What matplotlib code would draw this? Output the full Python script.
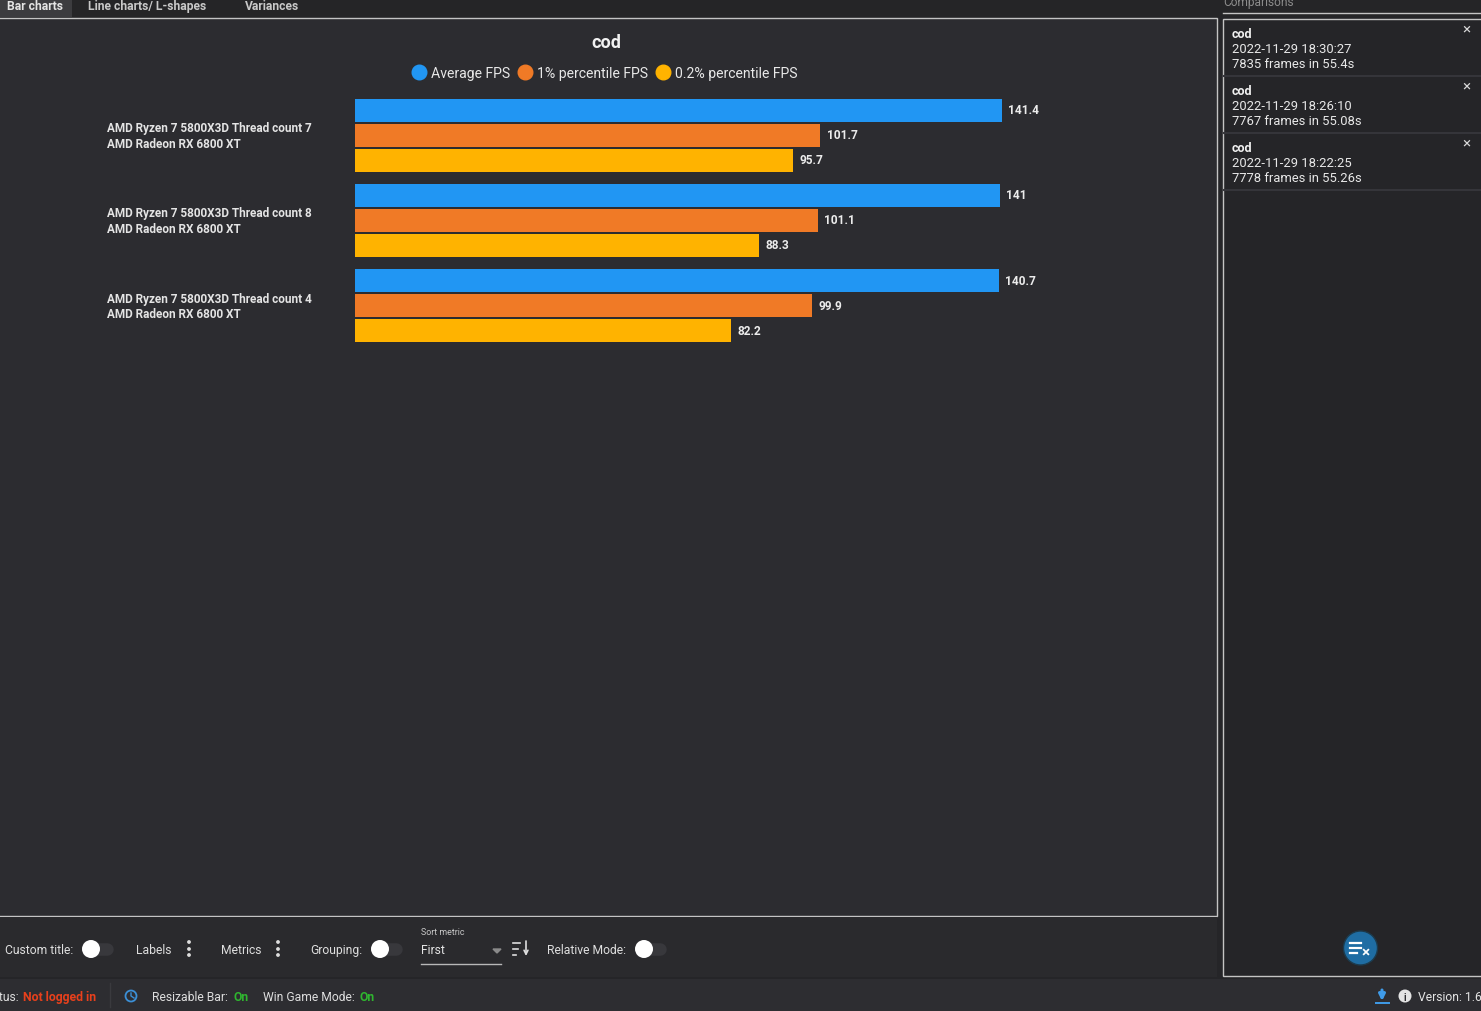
import matplotlib
matplotlib.use("Agg")
from matplotlib import pyplot as plt
from matplotlib.lines import Line2D
from matplotlib.patches import Rectangle, Circle
import numpy as np

plt.rcParams['font.family'] = ['Roboto', 'DejaVu Sans']

title = "cod"
labels = ["AMD Ryzen 7 5800X3D Thread count 7\nAMD Radeon RX 6800 XT",
          "AMD Ryzen 7 5800X3D Thread count 8\nAMD Radeon RX 6800 XT",
          "AMD Ryzen 7 5800X3D Thread count 4\nAMD Radeon RX 6800 XT"]
metrics = ["Average FPS", "1% percentile FPS", "0.2% percentile FPS"]
avg_fps = [141.4, 141, 140.7]
p1_fps = [101.7, 101.1, 99.9]
p02_fps = [95.7, 88.3, 82.2]
colors = ["#2196f3", "#f07a26", "#ffb300"]

tabs = ["Bar charts", "Line charts/ L-shapes", "Variances"]
runs = ["2022-11-29 18:30:27\n7835 frames in 55.4s",
        "2022-11-29 18:26:10\n7767 frames in 55.08s",
        "2022-11-29 18:22:25\n7778 frames in 55.26s"]

W, H = 1481, 1012
fig = plt.figure(figsize=(W/100, H/100), dpi=100, facecolor="#252528")

# the app window around the chart, in pixels
ui = fig.add_axes([0, 0, 1, 1])
ui.set_xlim(0, W)
ui.set_ylim(H, 0)
ui.axis("off")

def box(x, y, w, h, fc, ec="none", lw=0):
    ui.add_patch(Rectangle((x, y), w, h, fc=fc, ec=ec, lw=lw))

def txt(x, y, s, size=8.7, color="#e4e4e4", weight="normal", ha="left", **kw):
    ui.text(x, y + 0.8, s, fontsize=size, color=color, fontweight=weight, ha=ha, va="center", **kw)

box(0, 0, W, 18, "#252527")
box(0, 0, 72, 18, "#3c3c3f")
box(-3, 18.5, 1220, 898, "#2c2c30", "#c4c4c4", 1)
box(1223, 20, 262, 957, "#252528", "#c4c4c4", 1)
ui.plot([1223, W + 2], [14, 14], color="#c4c4c4", lw=1)
box(0, 917.5, 1217, 60, "#2a2a2d")
box(0, 980, W, 32, "#2d2d31")
ui.plot([110, 110], [984, 1008], color="#3a3a3e", lw=1)

txt(7, 5.5, tabs[0], 8.7, weight="bold")
txt(88, 5.5, tabs[1], 8.7, color="#c8c8c8", weight="bold")
txt(245, 5.5, tabs[2], 8.7, color="#c8c8c8", weight="bold")
txt(1223, 2, "Comparisons", 8.6, color="#8d8d8d")

# comparison list
for y0, run in zip([20, 77, 134], runs):
    ui.plot([1224, W + 2], [y0 + 57, y0 + 57], color="#35353a", lw=1.5)
    txt(1232, y0 + 13.5, title, 9, color="#f2f2f2", weight="bold")
    ui.text(1232, y0 + 37, run, fontsize=9.35, color="#e8e8e8", va="center", linespacing=1.13)
    txt(1466, y0 + 9, "×", 11, color="#d8d8d8", ha="center")

ui.add_patch(Circle((1360.5, 949), 17, fc="#1f6da3", ec="#1c3a4c", lw=1))
for yy, x1 in zip([943.5, 948.5, 953.5], [1361, 1361, 1357]):
    ui.plot([1350, x1], [yy, yy], color="white", lw=1.6)
txt(1366, 951.5, "×", 11, color="white", weight="bold", ha="center")

# bottom controls
def toggle(x):
    ui.plot([x + 4, x + 16], [950, 950], color="#38383c", lw=9, solid_capstyle="round", zorder=2)
    ui.add_patch(Circle((x, 950), 9, fc="white", ec="none", zorder=3))

def dots(x):
    for yy in [943, 950, 956]:
        ui.add_patch(Circle((x, yy), 1.9, fc="#dedede", ec="none"))

txt(5, 950, "Custom title:", color="#dedede")
toggle(91)
txt(136, 950, "Labels", color="#dedede")
dots(189)
txt(221, 950, "Metrics", color="#dedede")
dots(278)
txt(310, 950, "Grouping:", color="#dedede")
toggle(380)
txt(421, 931.5, "Sort metric", 6.4, color="#c8c8c8")
txt(421, 950, "First", 8.7, color="#e4e4e4")
ui.fill([493, 501, 497], [950, 950, 954], color="#8a8a8a")
ui.plot([421, 501], [964.5, 964.5], color="#b8b8b8", lw=1)
for yy, x1 in zip([943.5, 949.5, 955.5], [520, 518, 516]):
    ui.plot([513, x1], [yy, yy], color="#dedede", lw=1.2)
ui.annotate("", xy=(526, 957), xytext=(526, 942),
            arrowprops=dict(arrowstyle="->", color="#dedede", lw=1.2, mutation_scale=7,
                            shrinkA=0, shrinkB=0))
txt(547, 950, "Relative Mode:", color="#dedede")
toggle(644)

# status bar
txt(-18, 997, "Status:", color="#dedede")
txt(23, 997, "Not logged in", 8.8, color="#e8401c", weight="bold")
ui.add_patch(Circle((131, 997), 5.5, fc="none", ec="#3b8fd6", lw=1.3))
ui.plot([131, 131, 134], [994, 997, 999], color="#3b8fd6", lw=1)
txt(152, 997, "Resizable Bar:", color="#dedede")
txt(233, 997, "On", color="#2fb52f", weight="bold")
txt(263, 997, "Win Game Mode:", color="#dedede")
txt(359, 997, "On", color="#2fb52f", weight="bold")
ui.plot([1376, 1389], [1003.5, 1003.5], color="#3f9be8", lw=1.4)
ui.annotate("", xy=(1382, 1002), xytext=(1382, 991),
            arrowprops=dict(arrowstyle="-|>", color="#3f9be8", lw=2.2, mutation_scale=9,
                            shrinkA=0, shrinkB=0))
ui.add_patch(Circle((1405, 997), 6.5, fc="#e4e4e4", ec="none"))
txt(1405, 997, "i", 7, color="#2d2d31", weight="bold", ha="center")
txt(1418, 997, "Version: 1.6.1", color="#e4e4e4")

# chart title and legend
txt(606.5, 42, title, 13, color="#f2f2f2", weight="bold", ha="center")
handles = [Line2D([], [], ls="none", marker="o", ms=10.5, color=c) for c in colors]
ui.legend(handles, metrics, loc="center", bbox_to_anchor=(603, 74),
          bbox_transform=ui.transData, ncol=3, frameon=False, fontsize=10.1,
          labelcolor="#e8e8e8", handletextpad=0.12, columnspacing=0.3, borderpad=0,
          handlelength=1.5)

# bar chart: y units are pixels below the top of the axes
ax = fig.add_axes([355/W, 1 - 350/H, (1217 - 355)/W, (350 - 90)/H])
ax.patch.set_alpha(0)
group_pos = np.array([46, 131, 216.5])
ax.set_ylim(260, 0)
ax.set_xlim(0, (1217 - 355) / (647 / 141.4))
for offset, values, c in zip([-25, 0, 25], [avg_fps, p1_fps, p02_fps], colors):
    bars = ax.barh(group_pos + offset, values, height=23, color=c)
    ax.bar_label(bars, labels=[f"{v:g}" for v in values], padding=4.5, color="#ececec",
                 fontsize=8.6, fontweight="bold")
ax.set_yticks(group_pos - 2.5, labels)
ax.tick_params(axis="y", length=0, pad=178.5, labelsize=8.5, labelcolor="#e4e4e4")
for t in ax.get_yticklabels():
    t.set_ha("left")
    t.set_fontweight("bold")
    t.set_linespacing(1.3)
ax.set_xticks([])
for s in ax.spines.values():
    s.set_visible(False)

fig.savefig("out.png", dpi=100, facecolor=fig.get_facecolor())
